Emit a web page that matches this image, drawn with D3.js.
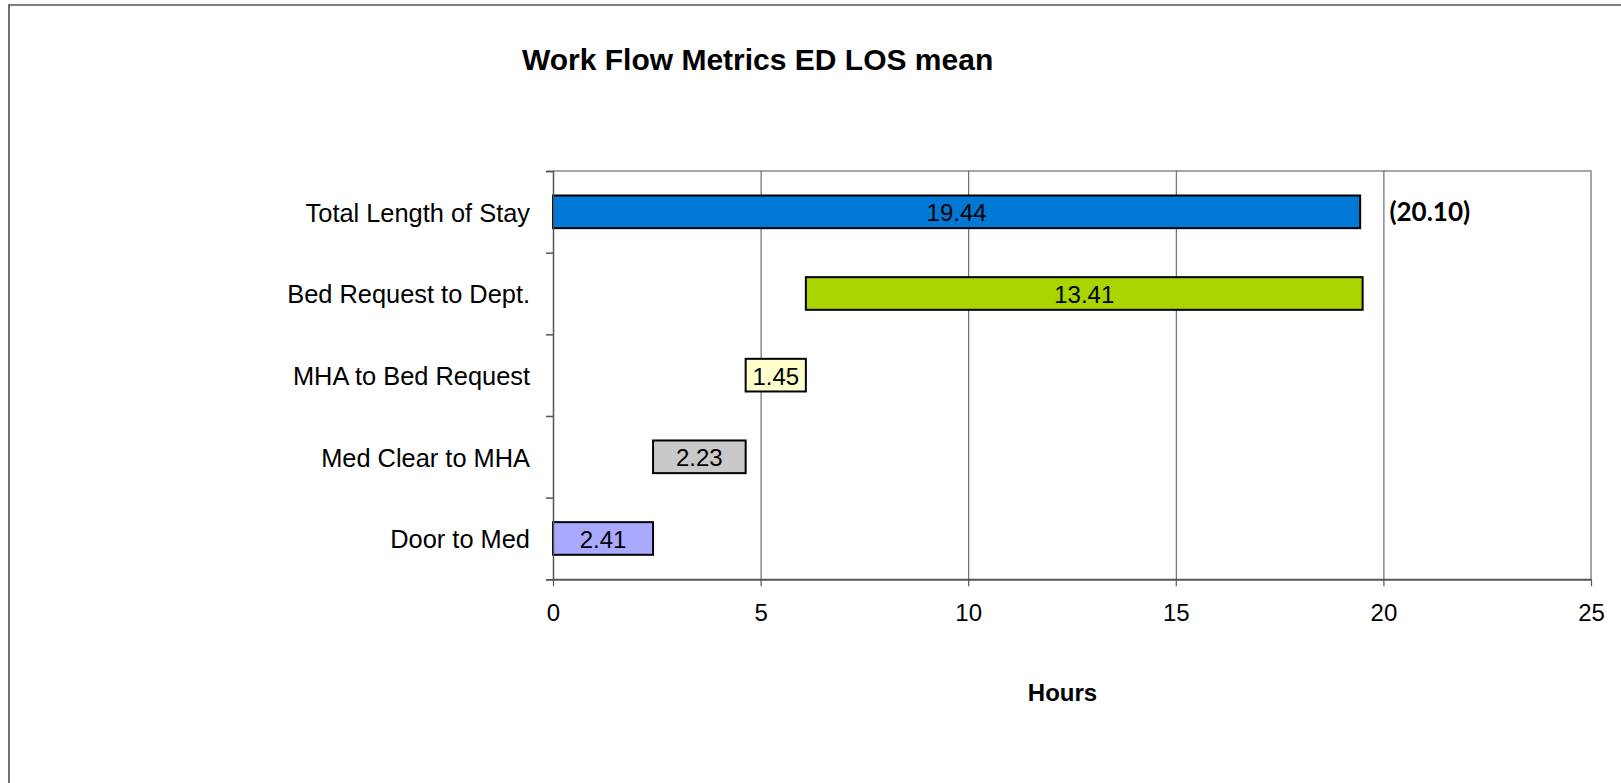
<!DOCTYPE html>
<html>
<head>
<meta charset="utf-8">
<script src="https://d3js.org/d3.v7.min.js"></script>
<style>
  body { margin: 0; background: white; }
  text { font-family: "Liberation Sans", Arial, sans-serif; fill: black; }
</style>
</head>
<body>
<svg width="1621" height="783"></svg>
<script>
// chart data
var categories = ["Total Length of Stay", "Bed Request to Dept.", "MHA to Bed Request", "Med Clear to MHA", "Door to Med"];
var starts = [0, 6.09, 4.64, 2.41, 0];
var values = [19.44, 13.41, 1.45, 2.23, 2.41];
var colors = ["#0079d6", "#a9d400", "#ffffcc", "#c9c9c9", "#a9a9ff"];
var xTicks = [0, 5, 10, 15, 20, 25];
var gridTicks = [5, 10, 15, 20];
var totalNote = "(20.10)";
var title = "Work Flow Metrics ED LOS mean";
var xTitle = "Hours";

var svg = d3.select("svg");
var plotLeft = 553, plotRight = 1591, plotTop = 171, plotBottom = 579.3;

var x = d3.scaleLinear().domain([0, 25]).range([plotLeft, plotRight]);
var y = d3.scaleBand().domain(categories).range([plotTop, plotBottom]).padding(0);
var yTicks = d3.scaleLinear().domain([0, 5]).range([plotBottom, plotTop]);
var bw = y.bandwidth();

// outer frame (top and left edges only)
svg.append("line").attr("x1", 9).attr("x2", 1621).attr("y1", 5).attr("y2", 5)
  .style("stroke", "#808080").style("stroke-width", 2);
svg.append("line").attr("x1", 9).attr("x2", 9).attr("y1", 4).attr("y2", 783)
  .style("stroke", "#707070").style("stroke-width", 2);

// title
svg.append("text").attr("x", 522).attr("y", 70)
  .style("font-size", "30px").style("font-weight", "bold").text(title);

// plot border (top and right)
svg.append("path")
  .attr("d", "M" + plotLeft + "," + plotTop + "H" + plotRight + "V" + plotBottom)
  .style("fill", "none").style("stroke", "#a6a6a6").style("stroke-width", 2);

// vertical gridlines
var grid = svg.append("g").attr("transform", "translate(0," + plotBottom + ")")
  .call(d3.axisBottom(x).tickValues(gridTicks).tickSize(-(plotBottom - plotTop)).tickFormat(""));
grid.select(".domain").remove();
grid.selectAll("line").style("stroke", "#505050").style("stroke-width", 1);

// bars
svg.append("g").selectAll("rect")
  .data(categories).enter().append("rect")
  .attr("x", function(d, i) { return x(starts[i]); })
  .attr("y", function(d) { return y(d) + bw * 0.3; })
  .attr("width", function(d, i) { return x(starts[i] + values[i]) - x(starts[i]); })
  .attr("height", bw * 0.4)
  .attr("fill", function(d, i) { return colors[i]; })
  .style("stroke", "black").style("stroke-width", 2);

// bar value labels
svg.append("g").selectAll("text")
  .data(categories).enter().append("text")
  .attr("x", function(d, i) { return x(starts[i] + values[i] / 2); })
  .attr("y", function(d) { return y(d) + bw / 2 + 9.5; })
  .style("text-anchor", "middle").style("font-size", "24px")
  .text(function(d, i) { return values[i].toFixed(2); });

// total note
svg.append("text").attr("x", x(20) + 6).attr("y", y(categories[0]) + bw / 2 + 9.5)
  .style("font-family", "Lato, 'Open Sans', sans-serif")
  .style("font-size", "26px").style("font-weight", "bold").text(totalNote);

// category labels
svg.append("g").selectAll("text")
  .data(categories).enter().append("text")
  .attr("x", 530)
  .attr("y", function(d) { return y(d) + bw / 2 + 10; })
  .style("text-anchor", "end").style("font-size", "25.4px")
  .text(function(d) { return d; });

// left axis
var ya = svg.append("g").attr("transform", "translate(" + plotLeft + ",0)")
  .call(d3.axisLeft(yTicks).ticks(5).tickSize(7).tickSizeOuter(7).tickFormat(""));
ya.select(".domain").style("stroke", "#555").style("stroke-width", 1.5);
ya.selectAll("line").style("stroke", "#555").style("stroke-width", 1.5);

// bottom axis
var xa = svg.append("g").attr("transform", "translate(0," + plotBottom + ")")
  .call(d3.axisBottom(x).tickValues(xTicks).tickSize(7).tickSizeOuter(0).tickPadding(18));
xa.select(".domain").style("stroke", "#555").style("stroke-width", 2);
xa.selectAll("line").style("stroke", "#555").style("stroke-width", 1.2);
xa.selectAll("text").style("font-size", "24px")
  .style("font-family", "'Liberation Sans', Arial, sans-serif").style("fill", "black");

// axis title
svg.append("text").attr("x", 1062.5).attr("y", 701)
  .style("text-anchor", "middle").style("font-size", "24px").style("font-weight", "bold")
  .text(xTitle);
</script>
</body>
</html>
